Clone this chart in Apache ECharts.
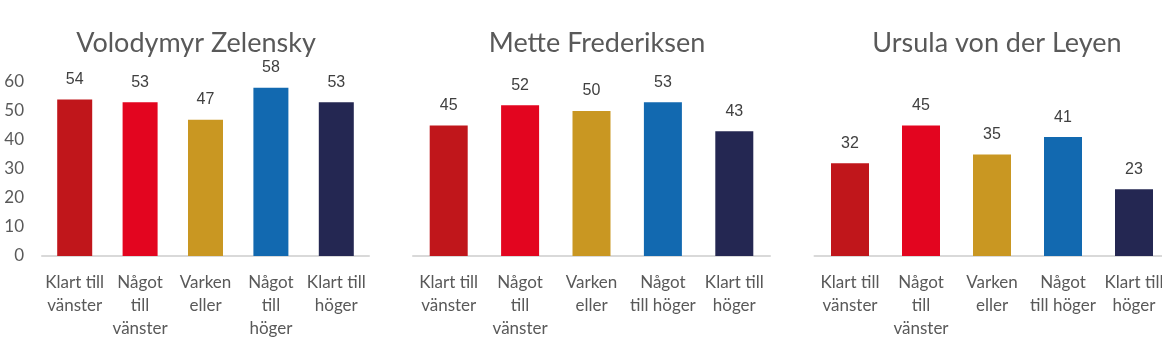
<!DOCTYPE html>
<html><head><meta charset="utf-8">
<script src="https://cdn.jsdelivr.net/npm/echarts@6/dist/echarts.min.js"></script>
<style>html,body{margin:0;padding:0;background:#fff}#c{width:1162px;height:337px}</style>
</head><body><div id="c"></div>
<script>
const titles = ["Volodymyr Zelensky", "Mette Frederiksen", "Ursula von der Leyen"];
const categories = ["Klart till vänster", "Något till vänster", "Varken eller", "Något till höger", "Klart till höger"];
const labelsNarrow = ["Klart till\nvänster", "Något\ntill\nvänster", "Varken\neller", "Något\ntill\nhöger", "Klart till\nhöger"];
const labelsWide = ["Klart till\nvänster", "Något\ntill\nvänster", "Varken\neller", "Något\ntill höger", "Klart till\nhöger"];
const zelensky = [54, 53, 47, 58, 53];
const frederiksen = [45, 52, 50, 53, 43];
const vonDerLeyen = [32, 45, 35, 41, 23];
const yTicks = [0, 10, 20, 30, 40, 50, 60];
const barColors = ["#C0161B", "#E3051F", "#C99722", "#1269B0", "#242752"];

const font = "Lato, 'Noto Sans', sans-serif";
const numFont = "'Liberation Sans', Arial, sans-serif";
const panels = [
  {data: zelensky, labels: labelsNarrow, left: 42, width: 327, barWidth: 35, showY: true, titleX: 191},
  {data: frederiksen, labels: labelsWide, left: 413, width: 357, barWidth: 38, showY: false, titleX: 592},
  {data: vonDerLeyen, labels: labelsWide, left: 814.5, width: 355, barWidth: 38, showY: false, titleX: 992}
];

const chart = echarts.init(document.getElementById('c'), null, {renderer: 'canvas'});
const option = {
  animation: false,
  backgroundColor: '#fff',
  title: panels.map((p, i) => ({
    text: titles[i], left: p.titleX, top: 25, textAlign: 'center',
    textStyle: {fontFamily: font, fontSize: 27, fontWeight: 'normal', color: '#595959'}
  })),
  grid: panels.map(p => ({left: p.left, width: p.width, top: 82, height: 174, containLabel: false, outerBoundsMode: 'none'})),
  xAxis: panels.map((p, i) => ({
    type: 'category', gridIndex: i, data: categories,
    axisLine: {lineStyle: {color: '#d9d9d9', width: 2}},
    axisTick: {show: false},
    axisLabel: {
      interval: 0, margin: 15, fontFamily: font, fontSize: 17, color: '#595959', lineHeight: 23,
      formatter: (v, idx) => p.labels[idx]
    }
  })),
  yAxis: panels.map((p, i) => ({
    type: 'value', gridIndex: i, min: yTicks[0], max: yTicks[yTicks.length - 1], interval: 10,
    splitLine: {show: false}, axisLine: {show: false}, axisTick: {show: false},
    axisLabel: {show: p.showY, margin: 18, fontFamily: font, fontSize: 17, color: '#595959'}
  })),
  series: panels.map((p, i) => ({
    type: 'bar', xAxisIndex: i, yAxisIndex: i, data: p.data, barWidth: p.barWidth,
    itemStyle: {color: params => barColors[params.dataIndex]},
    label: {show: true, position: 'top', distance: 12, fontFamily: numFont, fontSize: 16, color: '#404040'}
  }))
};
chart.setOption(option);
</script></body></html>
